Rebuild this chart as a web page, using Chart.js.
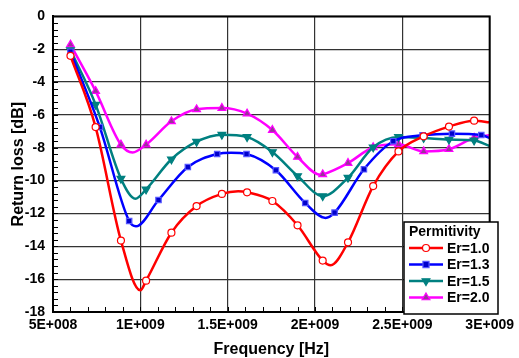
<!DOCTYPE html>
<html>
<head>
<meta charset="utf-8">
<script src="https://cdn.jsdelivr.net/npm/chart.js@4/dist/chart.umd.min.js"></script>
<style>
  html, body { margin: 0; padding: 0; background: #fff; }
</style>
</head>
<body>
<canvas id="rlChart" width="519" height="358"></canvas>
<script>
// axis ticks
const freqTickLabels = ['5E+008', '1E+009', '1.5E+009', '2E+009', '2.5E+009', '3E+009'];
const lossTicks = [0, -2, -4, -6, -8, -10, -12, -14, -16, -18];
const seriesNames = ['Er=1.0', 'Er=1.3', 'Er=1.5', 'Er=2.0'];

// marker points (Hz, dB)
const er10Freq = [0.6e9, 0.744e9, 0.889e9, 1.033e9, 1.178e9, 1.322e9, 1.467e9, 1.611e9, 1.756e9, 1.9e9, 2.044e9, 2.189e9, 2.333e9, 2.478e9, 2.622e9, 2.767e9, 2.911e9];
const er10Loss = [-2.4, -6.74, -13.65, -16.09, -13.17, -11.55, -10.81, -10.71, -11.24, -12.72, -14.87, -13.76, -10.33, -8.22, -7.3, -6.71, -6.35];
// extra curve points between markers (no marker drawn)
const er10CurveFreq = [1.0e9, 1.56e9, 2.09e9, 3.0e9];
const er10CurveLoss = [-16.68, -10.65, -15.15, -6.45];

const er13Freq = [0.6e9, 0.768e9, 0.936e9, 1.104e9, 1.272e9, 1.44e9, 1.608e9, 1.776e9, 1.944e9, 2.112e9, 2.28e9, 2.448e9, 2.616e9, 2.784e9, 2.952e9];
const er13Loss = [-2.15, -6.74, -12.46, -11.18, -9.17, -8.38, -8.38, -9.37, -11.36, -11.95, -9.31, -7.6, -7.24, -7.14, -7.22];
const er13CurveFreq = [0.975e9, 1.52e9, 2.06e9, 3.0e9];
const er13CurveLoss = [-12.78, -8.3, -12.27, -7.4];

const er15Freq = [0.6e9, 0.744e9, 0.889e9, 1.033e9, 1.178e9, 1.322e9, 1.467e9, 1.611e9, 1.756e9, 1.9e9, 2.044e9, 2.189e9, 2.333e9, 2.478e9, 2.622e9, 2.767e9, 2.911e9];
const er15Loss = [-2.05, -5.37, -9.88, -10.53, -8.7, -7.63, -7.2, -7.34, -8.26, -9.72, -10.94, -9.82, -7.97, -7.34, -7.4, -7.5, -7.55];
const er15CurveFreq = [0.972e9, 3.0e9];
const er15CurveLoss = [-11.1, -7.89];

const er20Freq = [0.6e9, 0.744e9, 0.889e9, 1.033e9, 1.178e9, 1.322e9, 1.467e9, 1.611e9, 1.756e9, 1.9e9, 2.044e9, 2.189e9, 2.333e9, 2.478e9, 2.622e9, 2.767e9, 2.911e9];
const er20Loss = [-1.72, -4.55, -7.81, -7.81, -6.39, -5.66, -5.58, -5.92, -6.92, -8.56, -9.62, -8.93, -7.97, -7.79, -8.22, -8.09, -7.4];
const er20CurveFreq = [0.956e9, 2.03e9, 3.0e9];
const er20CurveLoss = [-8.28, -9.64, -7.24];

function buildPoints(mf, ml, cf, cl) {
  const pts = mf.map((f, i) => ({ x: f, y: ml[i], m: true }));
  cf.forEach((f, i) => pts.push({ x: f, y: cl[i], m: false }));
  return pts.sort((a, b) => a.x - b.x);
}

const font = { family: '"Liberation Sans", Arial, sans-serif', weight: 'bold', size: 14 };
const titleFont = { family: '"Liberation Sans", Arial, sans-serif', weight: 'bold', size: 16, lineHeight: 1 };

const styles = [
  { color: '#ff0000', fill: '#ffffff', point: 'circle', rot: 0, r: 3.5 },
  { color: '#0000ff', fill: '#0000cc', point: 'rect', rot: 0, r: 3.8 },
  { color: '#008080', fill: '#008080', point: 'triangle', rot: 180, r: 4.5 },
  { color: '#ff00ff', fill: '#993399', point: 'triangle', rot: 0, r: 4.5 }
];
const borders = ['#ff0000', '#5555ff', '#008080', '#ff00ff'];

const allPoints = [
  buildPoints(er10Freq, er10Loss, er10CurveFreq, er10CurveLoss),
  buildPoints(er13Freq, er13Loss, er13CurveFreq, er13CurveLoss),
  buildPoints(er15Freq, er15Loss, er15CurveFreq, er15CurveLoss),
  buildPoints(er20Freq, er20Loss, er20CurveFreq, er20CurveLoss)
];

const datasets = allPoints.map((pts, i) => ({
  label: seriesNames[i],
  data: pts,
  borderColor: styles[i].color,
  borderWidth: 2.5,
  cubicInterpolationMode: 'monotone',
  pointStyle: styles[i].point,
  rotation: styles[i].rot,
  pointBackgroundColor: styles[i].fill,
  pointBorderColor: borders[i],
  pointBorderWidth: 1.2,
  pointRadius: ctx => (ctx.raw && ctx.raw.m ? styles[i].r : 0),
  pointHoverRadius: 0
}));

// inner minor ticks + frame
const framePlugin = {
  id: 'frame',
  afterDraw(chart) {
    const { ctx, chartArea: a, scales: { x, y } } = chart;
    ctx.save();
    ctx.strokeStyle = '#000';
    ctx.lineWidth = 1;
    ctx.beginPath();
    for (let v = 5e8; v <= 3e9 + 1; v += 1e8) {
      const px = Math.round(x.getPixelForValue(v)) + 0.5;
      ctx.moveTo(px, a.bottom);
      ctx.lineTo(px, a.bottom - 5);
    }
    for (let v = 0; v >= -18; v -= 0.4) {
      const py = Math.round(y.getPixelForValue(v)) + 0.5;
      ctx.moveTo(a.left, py);
      ctx.lineTo(a.left + 5, py);
    }
    ctx.stroke();
    ctx.lineWidth = 2;
    ctx.strokeRect(a.left, a.top, a.right - a.left, a.bottom - a.top);
    ctx.restore();
  }
};

function drawMarker(ctx, s, border, cx, cy) {
  ctx.save();
  ctx.fillStyle = s.fill;
  ctx.strokeStyle = border;
  ctx.lineWidth = 1.2;
  ctx.beginPath();
  const r = s.r;
  if (s.point === 'circle') {
    ctx.arc(cx, cy, r, 0, Math.PI * 2);
  } else if (s.point === 'rect') {
    ctx.rect(cx - r * 0.8, cy - r * 0.8, r * 1.6, r * 1.6);
  } else {
    const d = s.rot ? -1 : 1;
    ctx.moveTo(cx, cy - d * r);
    ctx.lineTo(cx + r * 0.87, cy + d * r * 0.5);
    ctx.lineTo(cx - r * 0.87, cy + d * r * 0.5);
    ctx.closePath();
  }
  ctx.fill();
  ctx.stroke();
  ctx.restore();
}

const legendPlugin = {
  id: 'boxLegend',
  afterDraw(chart) {
    const ctx = chart.ctx;
    const bx = 404, by = 222, bw = 94, bh = 92;
    ctx.save();
    ctx.fillStyle = '#fff';
    ctx.fillRect(bx, by, bw, bh);
    ctx.strokeStyle = '#000';
    ctx.lineWidth = 1.5;
    ctx.strokeRect(bx, by, bw, bh);
    ctx.fillStyle = '#000';
    ctx.font = 'bold 14px "Liberation Sans", Arial, sans-serif';
    ctx.textBaseline = 'middle';
    ctx.fillText('Permitivity', bx + 5, by + 10);
    chart.data.datasets.forEach((ds, i) => {
      const ry = by + 26 + i * 16.5;
      ctx.strokeStyle = styles[i].color;
      ctx.lineWidth = 2.5;
      ctx.beginPath();
      ctx.moveTo(bx + 5, ry);
      ctx.lineTo(bx + 39, ry);
      ctx.stroke();
      drawMarker(ctx, styles[i], borders[i], bx + 22, ry);
      ctx.fillStyle = '#000';
      ctx.fillText(ds.label, bx + 43, ry + 1);
    });
    ctx.restore();
  }
};

new Chart(document.getElementById('rlChart'), {
  type: 'line',
  data: { datasets },
  options: {
    responsive: false,
    animation: false,
    layout: { padding: { top: 16, right: 26, left: 0, bottom: 0 } },
    plugins: { legend: { display: false }, tooltip: { enabled: false } },
    scales: {
      x: {
        type: 'linear',
        min: 5e8,
        max: 3e9,
        afterFit: s => { s.height = 46; },
        ticks: {
          stepSize: 5e8,
          autoSkip: false,
          maxRotation: 0,
          padding: 5,
          color: '#000',
          font,
          callback: (v, i) => freqTickLabels[i]
        },
        grid: { color: '#333', lineWidth: 1.2, drawTicks: false },
        border: { color: '#000', width: 2 },
        title: { display: true, text: 'Frequency [Hz]', color: '#000', font: titleFont, padding: { top: 0, bottom: 0 } }
      },
      y: {
        min: -18,
        max: 0,
        afterFit: s => { s.width = 53; },
        afterBuildTicks: s => { s.ticks = lossTicks.map(v => ({ value: v })); },
        ticks: {
          padding: 8,
          color: '#000',
          font,
          callback: v => String(v)
        },
        grid: { color: '#333', lineWidth: 1.2, drawTicks: false },
        border: { color: '#000', width: 2 },
        title: { display: true, text: 'Return loss [dB]', color: '#000', font: titleFont, padding: { top: 11, bottom: 0 } }
      }
    }
  },
  plugins: [framePlugin, legendPlugin]
});
</script>
</body>
</html>
